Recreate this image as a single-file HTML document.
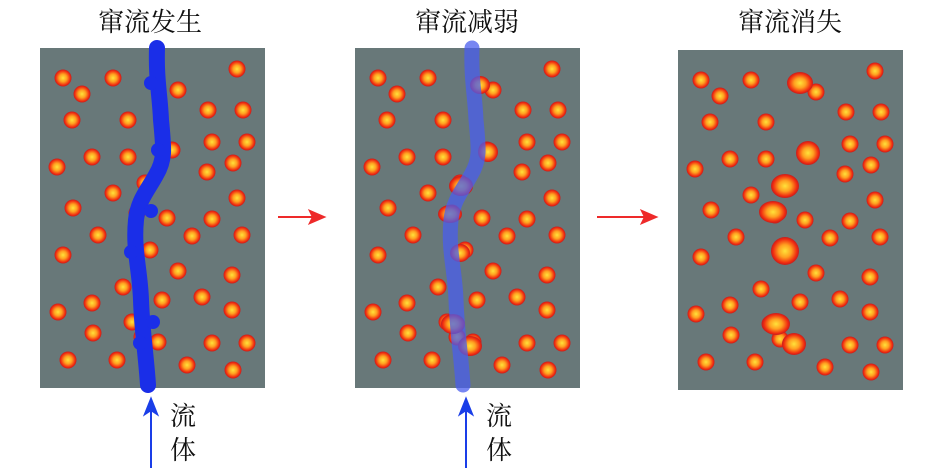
<!DOCTYPE html>
<html><head><meta charset="utf-8"><style>
html,body{margin:0;padding:0;background:#fff;width:945px;height:472px;overflow:hidden}
svg{display:block}
text{font-family:"Liberation Serif","Noto Serif CJK SC",serif;fill:#111}
</style></head><body>
<svg width="945" height="472" viewBox="0 0 945 472" xmlns="http://www.w3.org/2000/svg">
<defs>
<radialGradient id="g" cx="50%" cy="50%" r="50%">
<stop offset="0" stop-color="#ffe23a"/><stop offset="0.45" stop-color="#ffa020"/><stop offset="0.85" stop-color="#f02a10"/><stop offset="1" stop-color="#c02020"/>
</radialGradient>
<g id="dots">
<circle cx="63" cy="78" r="8.5"/><circle cx="113" cy="78" r="8.5"/><circle cx="82" cy="94" r="8.5"/><circle cx="237" cy="69" r="8.5"/><circle cx="178" cy="90" r="8.5"/><circle cx="72" cy="120" r="8.5"/><circle cx="128" cy="120" r="8.5"/><circle cx="208" cy="110" r="8.5"/><circle cx="243" cy="110" r="8.5"/><circle cx="92" cy="157" r="8.5"/><circle cx="128" cy="157" r="8.5"/><circle cx="212" cy="142" r="8.5"/><circle cx="247" cy="142" r="8.5"/><circle cx="57" cy="167" r="8.5"/><circle cx="207" cy="172" r="8.5"/><circle cx="172" cy="150" r="8.5"/><circle cx="233" cy="163" r="8.5"/><circle cx="145" cy="183" r="8.5"/><circle cx="113" cy="193" r="8.5"/><circle cx="237" cy="198" r="8.5"/><circle cx="73" cy="208" r="8.5"/><circle cx="137" cy="213" r="8.5"/><circle cx="167" cy="218" r="8.5"/><circle cx="212" cy="219" r="8.5"/><circle cx="98" cy="235" r="8.5"/><circle cx="192" cy="236" r="8.5"/><circle cx="242" cy="235" r="8.5"/><circle cx="150" cy="250" r="8.5"/><circle cx="63" cy="255" r="8.5"/><circle cx="178" cy="271" r="8.5"/><circle cx="232" cy="275" r="8.5"/><circle cx="123" cy="287" r="8.5"/><circle cx="202" cy="297" r="8.5"/><circle cx="92" cy="303" r="8.5"/><circle cx="162" cy="300" r="8.5"/><circle cx="58" cy="312" r="8.5"/><circle cx="232" cy="310" r="8.5"/><circle cx="132" cy="322" r="8.5"/><circle cx="93" cy="333" r="8.5"/><circle cx="142" cy="337" r="8.5"/><circle cx="158" cy="342" r="8.5"/><circle cx="212" cy="343" r="8.5"/><circle cx="247" cy="343" r="8.5"/><circle cx="68" cy="360" r="8.5"/><circle cx="117" cy="360" r="8.5"/><circle cx="187" cy="365" r="8.5"/><circle cx="233" cy="370" r="8.5"/>
</g>
</defs>
<text x="150" y="31" font-size="26" text-anchor="middle">窜流发生</text>
<text x="467" y="31" font-size="26" text-anchor="middle">窜流减弱</text>
<text x="790" y="31" font-size="26" text-anchor="middle">窜流消失</text>

<rect x="40" y="48" width="225" height="340" fill="#687879"/>
<use href="#dots" fill="url(#g)"/>
<path d="M157 48 C156 80 160 95 161 120 C164 150 165 160 156 175 C148 190 138 200 136 220 C133 250 140 270 141 300 C142 330 146 355 148 385" stroke="#1a2ee8" stroke-width="16" fill="none" stroke-linecap="round" stroke-linejoin="round"/>
<g fill="#1a2ee8"><circle cx="151" cy="83" r="7"/><circle cx="158" cy="150" r="7"/><circle cx="151" cy="211" r="7"/><circle cx="131" cy="252" r="7"/><circle cx="153" cy="322" r="7"/><circle cx="140" cy="343" r="7"/></g>

<rect x="355" y="48" width="225" height="340" fill="#687879"/>
<g transform="translate(315,0)"><use href="#dots" fill="url(#g)"/></g>
<g fill="url(#g)"><ellipse cx="480" cy="85" rx="10" ry="9"/><ellipse cx="488" cy="152" rx="10" ry="10"/><ellipse cx="461" cy="186" rx="12" ry="10"/><ellipse cx="450" cy="214" rx="12" ry="9"/><ellipse cx="460" cy="253" rx="10" ry="9"/><ellipse cx="453" cy="324" rx="12" ry="10"/><ellipse cx="470" cy="346" rx="12" ry="10"/></g>
<path d="M472 48 C471 80 475 95 476 120 C479 150 480 160 471 175 C463 190 453 200 451 220 C448 250 455 270 456 300 C457 330 461 355 463 385" stroke="#4a5eee" stroke-opacity="0.75" stroke-width="15" fill="none" stroke-linecap="round" stroke-linejoin="round"/>

<rect x="678" y="50" width="225" height="340" fill="#687879"/>
<g transform="translate(638,2)"><use href="#dots" fill="url(#g)"/></g>
<g fill="url(#g)"><ellipse cx="800" cy="83" rx="13" ry="11"/><ellipse cx="808" cy="153" rx="12" ry="12"/><ellipse cx="785" cy="186" rx="14" ry="12"/><ellipse cx="773" cy="212" rx="14" ry="11"/><ellipse cx="785" cy="251" rx="14" ry="14"/><ellipse cx="776" cy="324" rx="14" ry="11"/><ellipse cx="794" cy="344" rx="12" ry="11"/></g>

<g stroke="#ee2a2a" stroke-width="2" fill="#ee2a2a">
<line x1="278" y1="217" x2="316" y2="217"/><path d="M324 217 L310 211 L313 217 L310 223Z"/>
<line x1="597" y1="217" x2="648" y2="217"/><path d="M656 217 L642 211 L645 217 L642 223Z"/>
</g>
<g stroke="#1a3ee8" stroke-width="2" fill="#1a3ee8">
<line x1="151" y1="468" x2="151" y2="408"/><path d="M151 399 L145 414 L151 410 L157 414Z"/>
<line x1="466" y1="468" x2="466" y2="408"/><path d="M466 399 L460 414 L466 410 L472 414Z"/>
</g>
<text x="170" y="425" font-size="26">流</text><text x="170" y="459" font-size="26">体</text>
<text x="486" y="425" font-size="26">流</text><text x="486" y="459" font-size="26">体</text>
</svg>
</body></html>
